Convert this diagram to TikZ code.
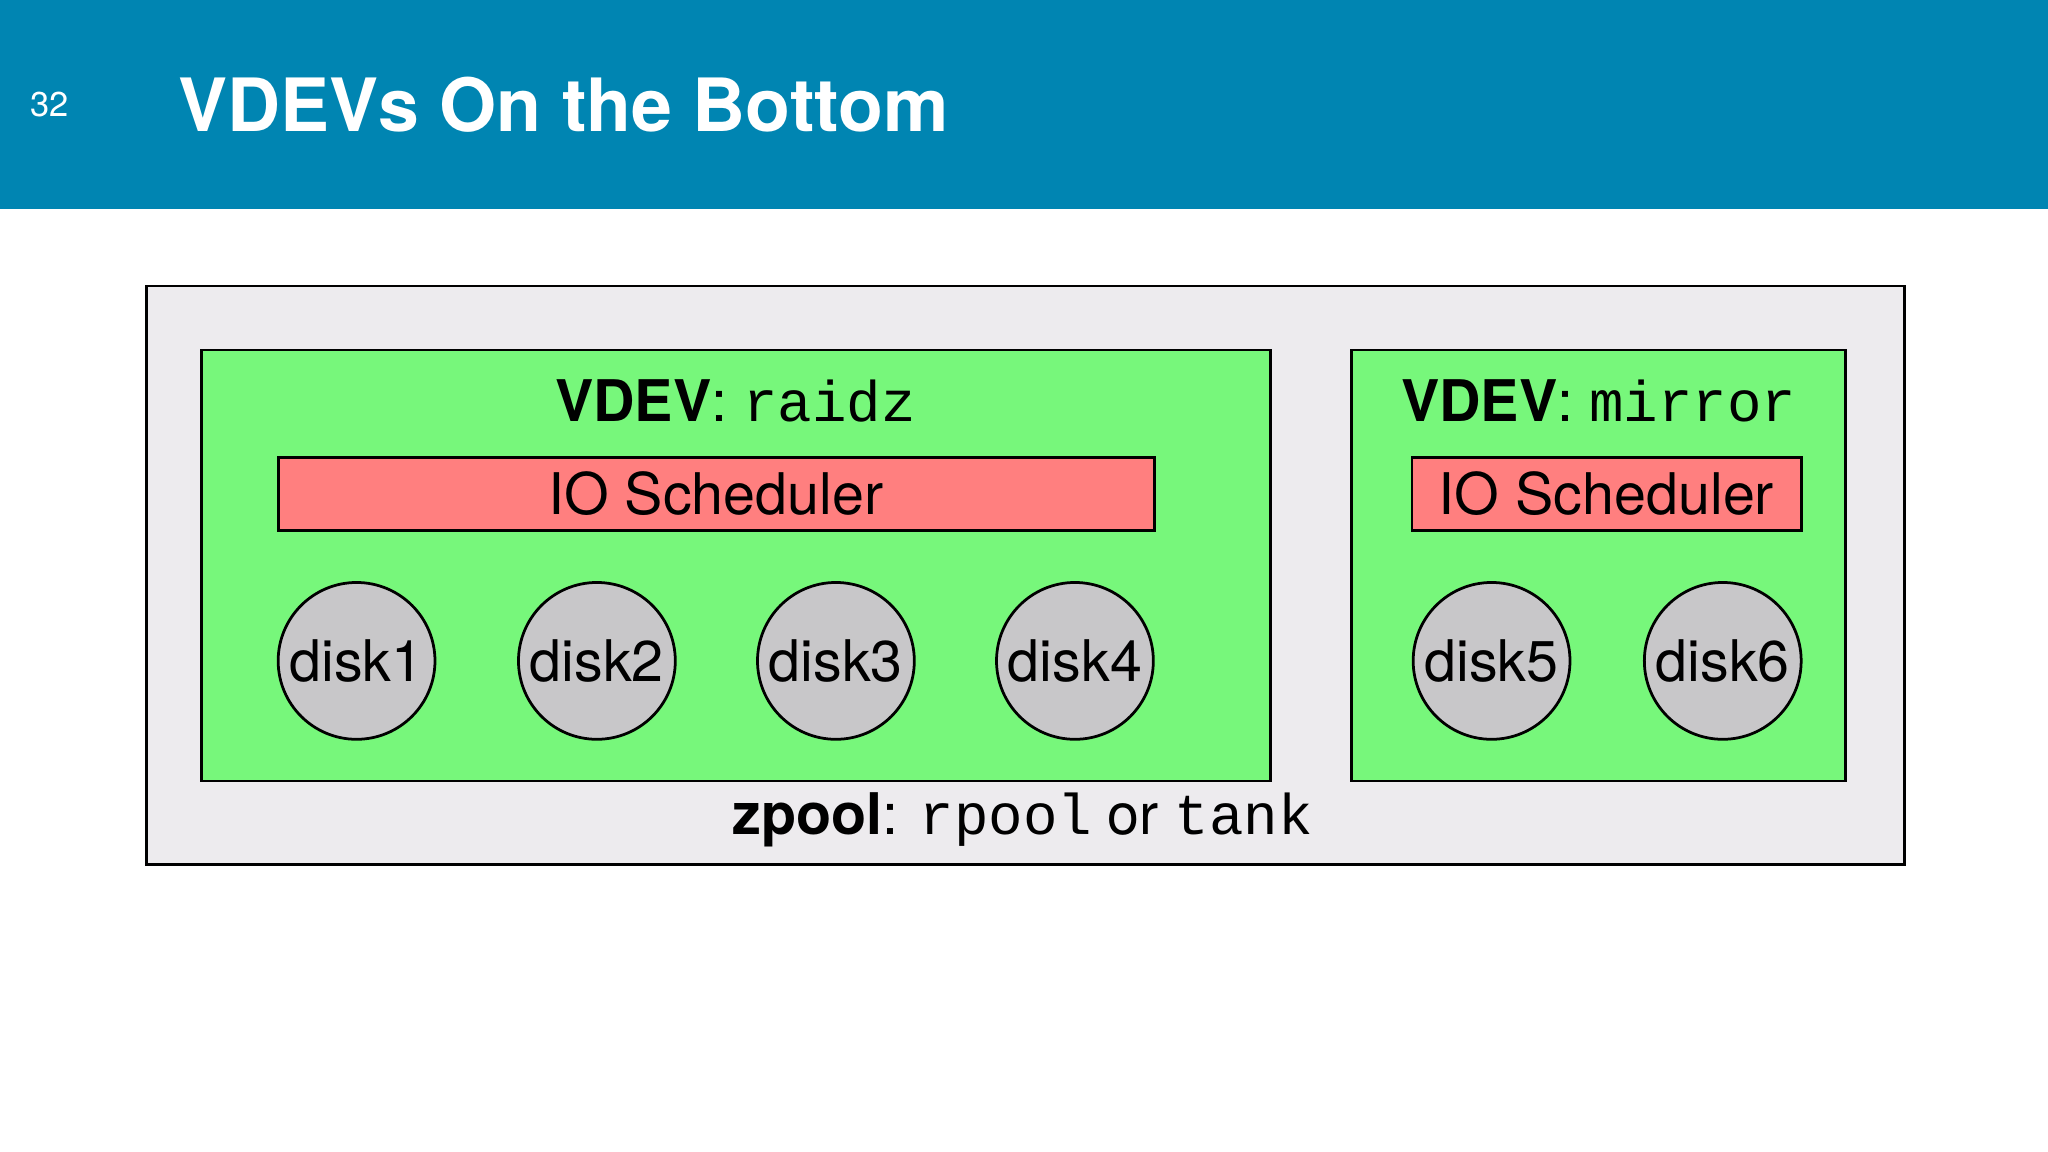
\documentclass[tikz,border=0pt]{standalone}
\usepackage{fontspec}
\setmainfont{TeX Gyre Heros}
\setmonofont{Liberation Mono}
\definecolor{hdr}{HTML}{0085B2}
\definecolor{pool}{HTML}{EDEBEE}
\definecolor{vgreen}{HTML}{77F77B}
\definecolor{sched}{HTML}{FF7F7F}
\definecolor{diskc}{HTML}{C8C7C9}
\tikzset{
 box/.style={draw=black,line width=0.6pt,inner sep=0pt},
 schedbox/.style={box,fill=sched,font=\fontsize{12.5}{14}\selectfont},
 disk/.style={draw=black,line width=0.6pt,fill=diskc,circle,minimum size=1.2cm,inner sep=0pt,font=\fontsize{12.5}{14}\selectfont},
 lbl/.style={font=\fontsize{12.5}{14}\selectfont}
}
\begin{document}
\begin{tikzpicture}[x=0.01cm,y=-0.01cm]
\useasboundingbox (0,0) rectangle (1568,882);
\fill[white] (0,0) rectangle (1568,882);
\fill[hdr] (0,0) rectangle (1568,160);
\node[text=white,font=\fontsize{7.5}{9}\selectfont] (num) at (38,80) {32};
\node[text=white,anchor=west,font=\bfseries\fontsize{16}{19}\selectfont] (title) at (124,80) {VDEVs On the Bottom};
\draw[box,fill=pool] (112,219) rectangle (1458,662);
\draw[box,fill=vgreen] (154,268) rectangle (973,598);
\draw[box,fill=vgreen] (1035,268) rectangle (1413,598);
\node[lbl] (v1) at (563,307) {\textbf{VDEV}: \texttt{raidz}};
\node[lbl] (v2) at (1224,307) {\textbf{VDEV}: \texttt{mirror}};
\draw[box,fill=sched] (213,350) rectangle (884,406);
\node[lbl] (s1) at (548,378) {IO Scheduler};
\draw[box,fill=sched] (1081,350) rectangle (1379,406);
\node[lbl] (s2) at (1230,378) {IO Scheduler};
\node[disk] (d1) at (273,506) {disk1};
\node[disk] (d2) at (457,506) {disk2};
\node[disk] (d3) at (640,506) {disk3};
\node[disk] (d4) at (823,506) {disk4};
\node[disk] (d5) at (1142,506) {disk5};
\node[disk] (d6) at (1319,506) {disk6};
\node[lbl] (zp) at (783,628) {\textbf{zpool}: \texttt{rpool} or \texttt{tank}};
\end{tikzpicture}
\end{document}
